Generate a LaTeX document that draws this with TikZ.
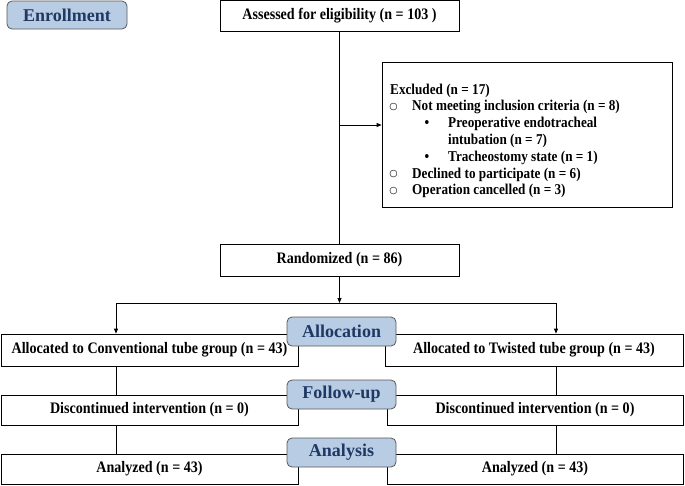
\documentclass[tikz,border=0pt]{standalone}
\usepackage{fontspec}
\setmainfont{Liberation Serif}
\newfontfamily\boxfont[FakeStretch=0.88]{Liberation Serif}
\newfontfamily\symfont{DejaVu Sans}
\usepackage{tikz}
\usetikzlibrary{arrows.meta, positioning, calc}
\definecolor{stagefill}{HTML}{B8CCE4}
\definecolor{stagetext}{HTML}{203864}
\definecolor{stageline}{HTML}{595959}

\begin{document}
\begin{tikzpicture}[x=1pt, y=-1pt,
        every node/.style = {font=\boxfont\bfseries\fontsize{16}{18}\selectfont},
        box/.style = {draw, line width=0.8pt, inner sep=0pt, anchor=center},
        stage/.style = {draw=stageline, line width=0.8pt, fill=stagefill, rounded corners=5pt,
            text=stagetext, font=\rmfamily\bfseries\fontsize{18}{20}\selectfont, inner sep=0pt,
            minimum width=109pt, minimum height=29pt},
        item/.style = {anchor=base west, inner sep=0pt, font=\boxfont\bfseries\fontsize{15}{17}\selectfont},
        mark1/.style = {anchor=base, inner sep=0pt, font=\symfont\fontsize{9.5}{10}\selectfont},
        link/.style = {line width=0.8pt},
        tip/.style = {link, -{Triangle[length=5pt, width=4pt]}}]
        \useasboundingbox (0, 0) rectangle (685, 485);

        % enrollment
        \node[box, minimum width=239pt, minimum height=30.5pt] (assess) at (339.5, 15.75) {Assessed for eligibility (n = 103 )};
        \node[box, minimum width=290pt, minimum height=145pt] (excl) at (527, 134.5) {};
        \node[item] (Ex0) at (390, 94) {Excluded (n = 17)};
        \node[mark1] (Bo1) at (393.5, 109) {○};
        \node[item] (Ex1) at (412, 110.8) {Not meeting inclusion criteria (n = 8)};
        \node[item, anchor=base] (Bu1) at (427, 127.6) {•};
        \node[item] (Ex2) at (448, 127.6) {Preoperative endotracheal};
        \node[item] (Ex3) at (448, 144.4) {intubation (n = 7)};
        \node[item, anchor=base] (Bu2) at (427, 161.2) {•};
        \node[item] (Ex4) at (448, 161.2) {Tracheostomy state (n = 1)};
        \node[mark1] (Bo2) at (393.5, 176.2) {○};
        \node[item] (Ex5) at (412, 178) {Declined to participate (n = 6)};
        \node[mark1] (Bo3) at (393.5, 193) {○};
        \node[item] (Ex6) at (412, 194.8) {Operation cancelled (n = 3)};
        \node[box, minimum width=239pt, minimum height=32pt] (rand) at (339.5, 260) {Randomized (n = 86)};

        % allocation, follow-up, analysis
        \node[box, minimum width=297pt, minimum height=32pt] (allocL) at (149.5, 350) {Allocated to Conventional tube group (n = 43)};
        \node[box, minimum width=298pt, minimum height=32pt] (allocR) at (534, 350) {Allocated to Twisted tube group (n = 43)};
        \node[box, minimum width=297pt, minimum height=30pt] (discL) at (149.5, 410) {Discontinued intervention (n = 0)};
        \node[box, minimum width=296pt, minimum height=30pt] (discR) at (535, 410) {Discontinued intervention (n = 0)};
        \node[box, minimum width=297pt, minimum height=30pt] (anaL) at (149.5, 469) {Analyzed (n = 43)};
        \node[box, minimum width=296pt, minimum height=30pt] (anaR) at (535, 469) {Analyzed (n = 43)};

        \coordinate (split) at (339.5, 125);
        \coordinate (bM) at (339.5, 303);
        \coordinate (bL) at (116, 303);
        \coordinate (bR) at (556, 303);

        \draw[link] (assess) -- (rand);
        \draw[tip] (split) -- (split -| excl.west);
        \draw[tip] (rand) -- (bM);
        \draw[tip] (bM) -- (bL) -- (bL |- allocL.north);
        \draw[tip] (bM) -- (bR) -- (bR |- allocR.north);
        \draw[link] (bL |- allocL.south) -- (bL |- discL.north);
        \draw[link] (bL |- discL.south) -- (bL |- anaL.north);
        \draw[link] (bR |- allocR.south) -- (bR |- discR.north);
        \draw[link] (bR |- discR.south) -- (bR |- anaR.north);

        % stage labels on top
        \node[stage, minimum width=120pt, minimum height=28pt] (Senroll) at (67, 15) {Enrollment};
        \node[stage] (Salloc) at (341.5, 331.5) {Allocation};
        \node[stage] (Sfollow) at (341.5, 394.5) {Follow-up};
        \node[stage] (Sanaly) at (341.5, 452.5) {Analysis};
    \end{tikzpicture}
\end{document}
